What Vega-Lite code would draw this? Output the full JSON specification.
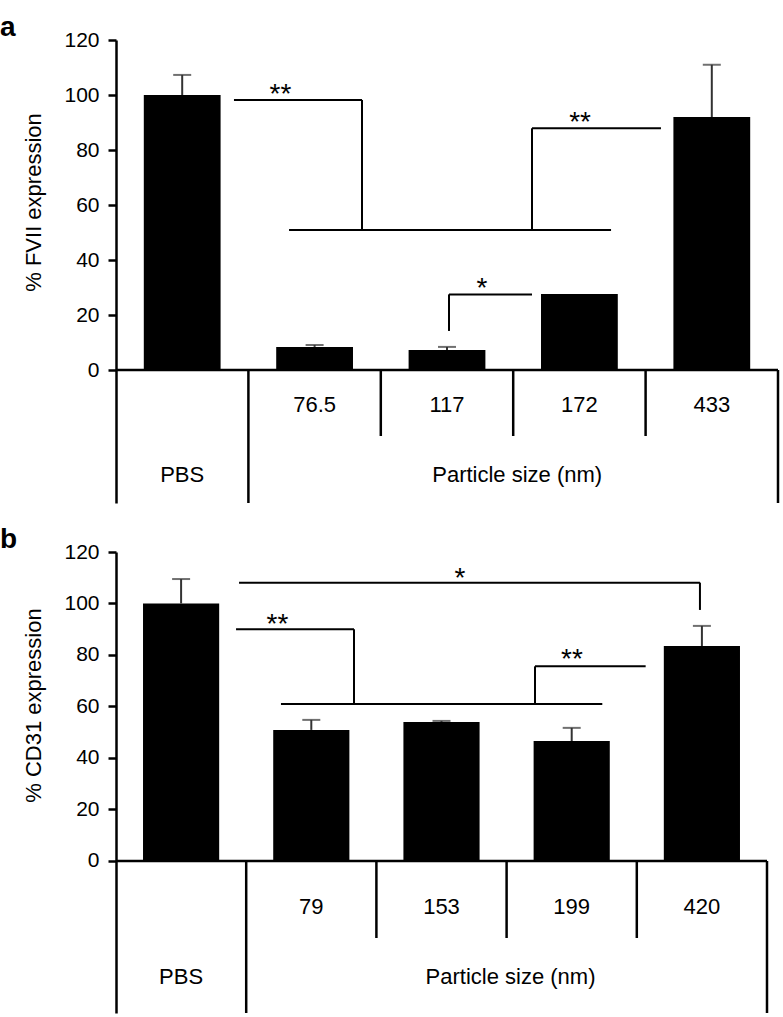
{
  "$schema": "https://vega.github.io/schema/vega-lite/v6.json",
  "padding": {"left": 0, "top": 14, "right": 0, "bottom": 0},
  "spacing": 21,
  "config": {
    "view": {"stroke": null},
    "font": "Liberation Sans",
    "axis": {"domainColor": "black", "domainWidth": 2.5, "tickColor": "black", "tickWidth": 2.5, "tickSize": 8, "labelFont": "Liberation Sans", "labelFontSize": 21, "labelColor": "black", "labelPadding": 9, "titleFont": "Liberation Sans", "titleFontSize": 22, "titleFontWeight": "normal", "titleColor": "black", "grid": false, "labelFlush": false, "labelOverlap": false},
    "text": {"font": "Liberation Sans", "color": "black"},
    "title": {"font": "Liberation Sans", "fontSize": 28, "fontWeight": "bold", "color": "black", "anchor": "start", "frame": "group", "baseline": "alphabetic", "dx": -116, "offset": -13}
  },
  "datasets": {
    "barsA": [
      {"cat": "PBS", "value": 100, "hi": 107.3},
      {"cat": "76.5", "value": 8.4, "hi": 9.1},
      {"cat": "117", "value": 7.3, "hi": 8.4},
      {"cat": "172", "value": 27.6, "hi": 27.6},
      {"cat": "433", "value": 92, "hi": 111}
    ],
    "bracketsA": [
      {"x": 0.891, "x2": 1.858, "y": 98.2, "y2": 98.2},
      {"x": 1.858, "x2": 1.858, "y": 98.2, "y2": 50.9},
      {"x": 1.307, "x2": 3.739, "y": 50.9, "y2": 50.9},
      {"x": 3.142, "x2": 3.142, "y": 50.9, "y2": 87.9},
      {"x": 3.142, "x2": 4.116, "y": 87.9, "y2": 87.9},
      {"x": 2.515, "x2": 2.515, "y": 14.2, "y2": 27.5},
      {"x": 2.515, "x2": 3.142, "y": 27.5, "y2": 27.5}
    ],
    "starsA": [
      {"x": 1.242, "y": 102.9, "label": "**"},
      {"x": 3.505, "y": 92.7, "label": "**"},
      {"x": 2.764, "y": 32.4, "label": "*"}
    ],
    "barsB": [
      {"cat": "PBS", "value": 100, "hi": 109.5},
      {"cat": "79", "value": 50.9, "hi": 54.8},
      {"cat": "153", "value": 54, "hi": 54.4},
      {"cat": "199", "value": 46.6, "hi": 51.7},
      {"cat": "420", "value": 83.5, "hi": 91.3}
    ],
    "bracketsB": [
      {"x": 0.945, "x2": 4.485, "y": 108.1, "y2": 108.1},
      {"x": 4.485, "x2": 4.485, "y": 108.1, "y2": 97.5},
      {"x": 0.922, "x2": 1.828, "y": 90.0, "y2": 90.0},
      {"x": 1.828, "x2": 1.828, "y": 90.0, "y2": 61.0},
      {"x": 1.267, "x2": 3.735, "y": 61.0, "y2": 61.0},
      {"x": 3.218, "x2": 3.218, "y": 61.0, "y2": 75.6},
      {"x": 3.218, "x2": 4.068, "y": 75.6, "y2": 75.6}
    ],
    "starsB": [
      {"x": 2.642, "y": 112.6, "label": "*"},
      {"x": 1.240, "y": 94.8, "label": "**"},
      {"x": 3.502, "y": 81.2, "label": "**"}
    ],
    "longDiv": [{"x": 1}, {"x": 5}],
    "shortDiv": [{"x": 2}, {"x": 3}, {"x": 4}],
    "baseLine": [{"x": 0, "x2": 5}],
    "groupLabel": [{"x": 3.03, "label": "Particle size (nm)"}]
  },
  "vconcat": [
    {
      "title": {"text": "a"},
      "width": 662,
      "height": 463,
      "resolve": {"scale": {"x": "independent"}, "axis": {"x": "independent"}},
      "layer": [
        {
          "data": {"name": "barsA"},
          "mark": {"type": "bar", "color": "black", "width": {"band": 0.58}},
          "encoding": {
            "x": {"field": "cat", "type": "nominal", "sort": null, "scale": {"domain": ["PBS", "76.5", "117", "172", "433"], "paddingInner": 0, "paddingOuter": 0}, "axis": null},
            "y": {"field": "value", "type": "quantitative", "scale": {"domain": [-48.36, 120], "nice": false, "zero": false},
                  "axis": {"values": [0, 20, 40, 60, 80, 100, 120], "title": "% FVII expression", "titleAngle": 270, "titleX": -83, "titleY": 162, "titleBaseline": "middle", "titleAlign": "center"}}
          }
        },
        {
          "data": {"name": "barsA"},
          "transform": [{"filter": "datum.hi > datum.value"}],
          "mark": {"type": "rule", "color": "#333333", "strokeWidth": 2},
          "encoding": {
            "x": {"field": "cat", "type": "nominal", "sort": null, "scale": {"domain": ["PBS", "76.5", "117", "172", "433"], "paddingInner": 0, "paddingOuter": 0}, "axis": null},
            "y": {"field": "value", "type": "quantitative", "scale": {"domain": [-48.36, 120], "nice": false, "zero": false}},
            "y2": {"field": "hi"}
          }
        },
        {
          "data": {"name": "barsA"},
          "transform": [{"filter": "datum.hi > datum.value"}],
          "mark": {"type": "tick", "color": "#333333", "size": 18, "thickness": 2},
          "encoding": {
            "x": {"field": "cat", "type": "nominal", "sort": null, "scale": {"domain": ["PBS", "76.5", "117", "172", "433"], "paddingInner": 0, "paddingOuter": 0}, "axis": null},
            "y": {"field": "hi", "type": "quantitative", "scale": {"domain": [-48.36, 120], "nice": false, "zero": false}}
          }
        },
        {
          "data": {"name": "barsA"},
          "transform": [{"filter": "datum.cat !== 'PBS'"}],
          "mark": {"type": "text", "fontSize": 22, "baseline": "middle"},
          "encoding": {
            "x": {"field": "cat", "type": "nominal", "sort": null, "scale": {"domain": ["PBS", "76.5", "117", "172", "433"], "paddingInner": 0, "paddingOuter": 0}, "axis": null},
            "y": {"datum": -12.7, "type": "quantitative", "scale": {"domain": [-48.36, 120], "nice": false, "zero": false}},
            "text": {"field": "cat"}
          }
        },
        {
          "data": {"name": "barsA"},
          "transform": [{"filter": "datum.cat === 'PBS'"}],
          "mark": {"type": "text", "fontSize": 22, "baseline": "middle"},
          "encoding": {
            "x": {"field": "cat", "type": "nominal", "sort": null, "scale": {"domain": ["PBS", "76.5", "117", "172", "433"], "paddingInner": 0, "paddingOuter": 0}, "axis": null},
            "y": {"datum": -38.2, "type": "quantitative", "scale": {"domain": [-48.36, 120], "nice": false, "zero": false}},
            "text": {"field": "cat"}
          }
        },
        {
          "data": {"name": "groupLabel"},
          "mark": {"type": "text", "fontSize": 22, "baseline": "middle"},
          "encoding": {
            "x": {"field": "x", "type": "quantitative", "scale": {"domain": [0, 5], "nice": false, "zero": false}, "axis": null},
            "y": {"datum": -38.2, "type": "quantitative", "scale": {"domain": [-48.36, 120], "nice": false, "zero": false}},
            "text": {"field": "label"}
          }
        },
        {
          "data": {"name": "longDiv"},
          "mark": {"type": "rule", "color": "black", "strokeWidth": 2.5},
          "encoding": {
            "x": {"field": "x", "type": "quantitative", "scale": {"domain": [0, 5], "nice": false, "zero": false}, "axis": null},
            "y": {"datum": 0, "type": "quantitative", "scale": {"domain": [-48.36, 120], "nice": false, "zero": false}},
            "y2": {"datum": -48.36}
          }
        },
        {
          "data": {"name": "shortDiv"},
          "mark": {"type": "rule", "color": "black", "strokeWidth": 2.5},
          "encoding": {
            "x": {"field": "x", "type": "quantitative", "scale": {"domain": [0, 5], "nice": false, "zero": false}, "axis": null},
            "y": {"datum": 0, "type": "quantitative", "scale": {"domain": [-48.36, 120], "nice": false, "zero": false}},
            "y2": {"datum": -24}
          }
        },
        {
          "data": {"name": "baseLine"},
          "mark": {"type": "rule", "color": "black", "strokeWidth": 2.5},
          "encoding": {
            "x": {"field": "x", "type": "quantitative", "scale": {"domain": [0, 5], "nice": false, "zero": false}, "axis": null},
            "x2": {"field": "x2"},
            "y": {"datum": 0, "type": "quantitative", "scale": {"domain": [-48.36, 120], "nice": false, "zero": false}}
          }
        },
        {
          "data": {"name": "bracketsA"},
          "mark": {"type": "rule", "color": "black", "strokeWidth": 2},
          "encoding": {
            "x": {"field": "x", "type": "quantitative", "scale": {"domain": [0, 5], "nice": false, "zero": false}, "axis": null},
            "x2": {"field": "x2"},
            "y": {"field": "y", "type": "quantitative", "scale": {"domain": [-48.36, 120], "nice": false, "zero": false}},
            "y2": {"field": "y2"}
          }
        },
        {
          "data": {"name": "starsA"},
          "mark": {"type": "text", "fontSize": 28, "baseline": "alphabetic", "dy": 16},
          "encoding": {
            "x": {"field": "x", "type": "quantitative", "scale": {"domain": [0, 5], "nice": false, "zero": false}, "axis": null},
            "y": {"field": "y", "type": "quantitative", "scale": {"domain": [-48.36, 120], "nice": false, "zero": false}},
            "text": {"field": "label"}
          }
        }
      ]
    },
    {
      "title": {"text": "b"},
      "width": 651,
      "height": 461,
      "resolve": {"scale": {"x": "independent"}, "axis": {"x": "independent"}},
      "layer": [
        {
          "data": {"name": "barsB"},
          "mark": {"type": "bar", "color": "black", "width": {"band": 0.585}},
          "encoding": {
            "x": {"field": "cat", "type": "nominal", "sort": null, "scale": {"domain": ["PBS", "79", "153", "199", "420"], "paddingInner": 0, "paddingOuter": 0}, "axis": null},
            "y": {"field": "value", "type": "quantitative", "scale": {"domain": [-59.03, 120], "nice": false, "zero": false},
                  "axis": {"values": [0, 20, 40, 60, 80, 100, 120], "title": "% CD31 expression", "titleAngle": 270, "titleX": -83, "titleY": 153, "titleBaseline": "middle", "titleAlign": "center"}}
          }
        },
        {
          "data": {"name": "barsB"},
          "transform": [{"filter": "datum.hi > datum.value"}],
          "mark": {"type": "rule", "color": "#333333", "strokeWidth": 2},
          "encoding": {
            "x": {"field": "cat", "type": "nominal", "sort": null, "scale": {"domain": ["PBS", "79", "153", "199", "420"], "paddingInner": 0, "paddingOuter": 0}, "axis": null},
            "y": {"field": "value", "type": "quantitative", "scale": {"domain": [-59.03, 120], "nice": false, "zero": false}},
            "y2": {"field": "hi"}
          }
        },
        {
          "data": {"name": "barsB"},
          "transform": [{"filter": "datum.hi > datum.value"}],
          "mark": {"type": "tick", "color": "#333333", "size": 18, "thickness": 2},
          "encoding": {
            "x": {"field": "cat", "type": "nominal", "sort": null, "scale": {"domain": ["PBS", "79", "153", "199", "420"], "paddingInner": 0, "paddingOuter": 0}, "axis": null},
            "y": {"field": "hi", "type": "quantitative", "scale": {"domain": [-59.03, 120], "nice": false, "zero": false}}
          }
        },
        {
          "data": {"name": "barsB"},
          "transform": [{"filter": "datum.cat !== 'PBS'"}],
          "mark": {"type": "text", "fontSize": 22, "baseline": "middle"},
          "encoding": {
            "x": {"field": "cat", "type": "nominal", "sort": null, "scale": {"domain": ["PBS", "79", "153", "199", "420"], "paddingInner": 0, "paddingOuter": 0}, "axis": null},
            "y": {"datum": -17.9, "type": "quantitative", "scale": {"domain": [-59.03, 120], "nice": false, "zero": false}},
            "text": {"field": "cat"}
          }
        },
        {
          "data": {"name": "barsB"},
          "transform": [{"filter": "datum.cat === 'PBS'"}],
          "mark": {"type": "text", "fontSize": 22, "baseline": "middle"},
          "encoding": {
            "x": {"field": "cat", "type": "nominal", "sort": null, "scale": {"domain": ["PBS", "79", "153", "199", "420"], "paddingInner": 0, "paddingOuter": 0}, "axis": null},
            "y": {"datum": -45.0, "type": "quantitative", "scale": {"domain": [-59.03, 120], "nice": false, "zero": false}},
            "text": {"field": "cat"}
          }
        },
        {
          "data": {"name": "groupLabel"},
          "mark": {"type": "text", "fontSize": 22, "baseline": "middle"},
          "encoding": {
            "x": {"field": "x", "type": "quantitative", "scale": {"domain": [0, 5], "nice": false, "zero": false}, "axis": null},
            "y": {"datum": -45.0, "type": "quantitative", "scale": {"domain": [-59.03, 120], "nice": false, "zero": false}},
            "text": {"field": "label"}
          }
        },
        {
          "data": {"name": "longDiv"},
          "mark": {"type": "rule", "color": "black", "strokeWidth": 2.5},
          "encoding": {
            "x": {"field": "x", "type": "quantitative", "scale": {"domain": [0, 5], "nice": false, "zero": false}, "axis": null},
            "y": {"datum": 0, "type": "quantitative", "scale": {"domain": [-59.03, 120], "nice": false, "zero": false}},
            "y2": {"datum": -59.03}
          }
        },
        {
          "data": {"name": "shortDiv"},
          "mark": {"type": "rule", "color": "black", "strokeWidth": 2.5},
          "encoding": {
            "x": {"field": "x", "type": "quantitative", "scale": {"domain": [0, 5], "nice": false, "zero": false}, "axis": null},
            "y": {"datum": 0, "type": "quantitative", "scale": {"domain": [-59.03, 120], "nice": false, "zero": false}},
            "y2": {"datum": -29.9}
          }
        },
        {
          "data": {"name": "baseLine"},
          "mark": {"type": "rule", "color": "black", "strokeWidth": 2.5},
          "encoding": {
            "x": {"field": "x", "type": "quantitative", "scale": {"domain": [0, 5], "nice": false, "zero": false}, "axis": null},
            "x2": {"field": "x2"},
            "y": {"datum": 0, "type": "quantitative", "scale": {"domain": [-59.03, 120], "nice": false, "zero": false}}
          }
        },
        {
          "data": {"name": "bracketsB"},
          "mark": {"type": "rule", "color": "black", "strokeWidth": 2},
          "encoding": {
            "x": {"field": "x", "type": "quantitative", "scale": {"domain": [0, 5], "nice": false, "zero": false}, "axis": null},
            "x2": {"field": "x2"},
            "y": {"field": "y", "type": "quantitative", "scale": {"domain": [-59.03, 120], "nice": false, "zero": false}},
            "y2": {"field": "y2"}
          }
        },
        {
          "data": {"name": "starsB"},
          "mark": {"type": "text", "fontSize": 28, "baseline": "alphabetic", "dy": 16},
          "encoding": {
            "x": {"field": "x", "type": "quantitative", "scale": {"domain": [0, 5], "nice": false, "zero": false}, "axis": null},
            "y": {"field": "y", "type": "quantitative", "scale": {"domain": [-59.03, 120], "nice": false, "zero": false}},
            "text": {"field": "label"}
          }
        }
      ]
    }
  ]
}
